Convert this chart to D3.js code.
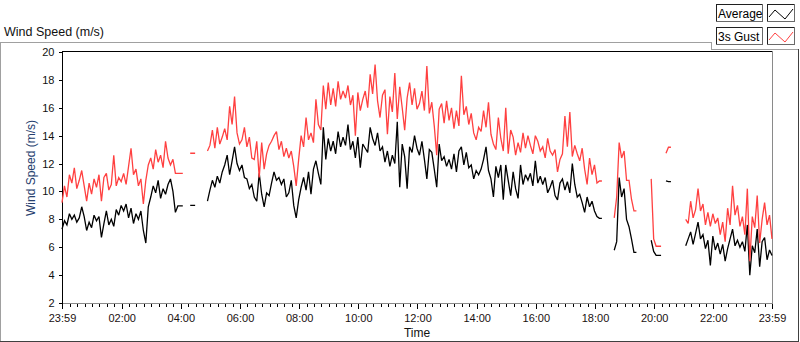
<!DOCTYPE html>
<html>
<head>
<meta charset="utf-8">
<script src="https://cdn.jsdelivr.net/npm/d3@7"></script>
<style>
  body { margin: 0; background: #fff; }
  svg { display: block; font-family: "Liberation Sans", Arial, sans-serif; }
</style>
</head>
<body>
<div id="chart"></div>
<script>
// chart data: one sample every 5 minutes, starting 23:59 of the previous day
var step_minutes = 5;

var avg_speed = [
    7.3, 7.9, 7.6, 8.4, 8.0, 8.3, 7.8, 8.1, 8.9, 8.2,
    7.2, 7.8, 7.4, 8.3, 7.9, 8.2, 6.7, 7.7, 8.6, 7.6,
    8.0, 7.5, 8.7, 8.3, 9.0, 8.6, 9.1, 8.1, 8.8, 7.7,
    8.4, 8.0, 8.6, 7.2, 6.3, 8.9, 9.6, 10.4, 9.9, 10.8,
    9.5, 10.2, 9.8, 10.5, 10.9, 10.0, 8.5, 8.96, 8.96, 8.96,
    null, null, 9.0, 9.0, 9.0, null, null, null, null, 9.3,
    10.1, 10.8, 10.3, 11.1, 10.6, 11.4, 11.9, 12.6, 11.2, 12.2,
    13.2, 12.0, 11.5, 11.9, 11.0, 10.9, 10.2, 10.5, 9.6, 9.3,
    11.3, 9.8, 8.9, 9.9, 9.7, 10.6, 11.4, 10.8, 11.0, 10.5,
    10.9, 9.6, 9.9, 10.8, 9.0, 8.1, 9.4, 10.3, 11.0, 10.1,
    11.4, 9.8, 11.6, 12.2, 11.3, 10.5, 14.6, 12.3, 13.8, 12.9,
    13.6, 12.7, 14.3, 13.2, 13.9, 13.3, 14.8, 13.0, 13.6, 12.4,
    13.9, 11.7, 13.4, 13.1, 12.8, 14.6, 13.8, 13.3, 14.2, 12.9,
    13.2, 12.1, 12.9, 11.8, 12.6, 12.0, 15.0, 10.3, 13.4, 12.5,
    10.2, 13.2, 12.8, 14.0, 13.1, 12.6, 13.6, 12.3, 10.9, 13.0,
    12.8, 11.6, 10.3, 13.4, 12.2, 12.5, 11.8, 12.3, 11.6, 12.7,
    11.4, 12.9, 13.2, 11.9, 12.8, 11.7, 11.9, 10.9, 11.5, 11.2,
    11.6, 12.3, 13.2, 11.5, 10.9, 9.6, 11.8, 11.0, 11.9, 9.4,
    11.9, 10.8, 9.7, 11.4, 10.2, 9.5, 11.9, 10.5, 11.2, 10.8,
    11.3, 10.4, 12.2, 10.6, 11.1, 10.5, 11.0, 9.9, 10.3, 10.8,
    9.7, 9.4, 10.6, 10.9, 10.1, 10.7, 9.9, 12.0, 10.5, 9.6,
    9.8, 9.2, 8.5, 9.6, 8.9, 9.3, 8.6, 8.2, 8.07, 8.07,
    null, null, null, null, 5.78, 6.4, 11.0, 9.6, 10.2, 8.0,
    7.47, 6.6, 5.63, 5.63, null, null, null, null, null, 6.5,
    5.7, 5.42, 5.42, 5.42, null, 10.75, 10.7, 10.7, null, null,
    null, null, null, 6.1, 6.6, 7.1, 6.2, 7.0, 7.8, 6.6,
    6.9, 5.9, 6.5, 4.7, 6.8, 5.8, 6.3, 5.5, 6.2, 5.0,
    5.9, 6.6, 7.3, 6.1, 6.5, 6.0, 6.4, 5.7, 7.6, 4.0,
    6.1, 5.6, 7.3, 4.6, 6.4, 6.7, 5.1, 5.8, 5.4
];

var gust_speed = [
    9.2, 10.4, 9.6, 11.2, 10.6, 11.7, 10.2, 10.8, 11.5, 10.4,
    9.3, 10.6, 9.8, 10.9, 10.3, 11.2, 9.3, 11.0, 11.3, 10.1,
    10.5, 12.6, 10.4, 11.0, 10.7, 11.3, 10.5, 11.8, 13.1, 11.2,
    11.6, 10.4, 10.9, 9.1, 10.8, 11.9, 12.4, 11.6, 13.0, 12.1,
    12.6, 11.7, 13.6, 12.4, 11.9, 12.3, 11.3, 11.3, 11.3, 11.3,
    null, null, 12.74, 12.74, 12.74, null, null, null, null, 12.9,
    13.3, 14.4, 13.1, 14.6, 13.4, 13.9, 14.5, 13.7, 16.1, 14.8,
    16.8, 14.2, 13.4, 13.7, 14.6, 13.2, 13.9, 12.4, 12.3, 13.6,
    11.0, 13.5, 11.6, 12.7, 13.3, 13.6, 14.0, 14.3, 13.0, 13.6,
    12.5, 13.1, 12.4, 12.9, 11.8, 10.4, 12.3, 14.0, 13.2, 15.3,
    13.7, 14.2, 13.5, 16.6, 14.8, 14.4, 17.6, 15.9, 17.8, 16.2,
    17.4, 16.1, 17.9, 16.6, 17.2, 16.7, 17.6, 16.2, 16.9, 14.0,
    17.1, 15.8, 16.6, 17.2, 16.0, 18.4, 17.0, 19.1, 16.5, 15.3,
    16.9, 17.3, 14.1, 16.8, 15.7, 18.5, 15.2, 17.5, 16.0, 14.4,
    16.7, 17.8, 16.2, 17.4, 15.9, 16.3, 17.2, 15.8, 19.0, 15.6,
    16.4, 14.7, 12.6, 15.9, 16.3, 14.9, 16.5, 15.1, 16.0, 14.5,
    15.8, 14.7, 18.3, 15.5, 16.1, 14.8, 15.6, 14.2, 13.7, 14.6,
    14.3, 15.8, 14.6, 16.4, 14.1, 13.4, 13.0, 15.3, 13.8, 12.9,
    16.0, 12.7, 14.4, 13.9, 12.6, 13.5, 12.8, 14.2, 13.1, 14.0,
    13.3, 12.7, 14.0, 13.6, 12.9, 13.2, 12.4, 13.8, 12.9, 12.6,
    13.0, 11.4, 12.3, 12.7, 15.4, 13.2, 15.7, 12.5, 13.3, 12.7,
    12.2, 13.1, 11.6, 10.5, 12.4, 11.2, 11.9, 10.6, 10.75, 10.75,
    null, null, null, null, 8.1, 9.6, 13.5, 12.4, 12.9, 10.8,
    10.8, 9.44, 8.6, 8.6, null, null, null, null, null, 10.9,
    6.6, 6.07, 6.07, 6.07, null, 12.74, 13.17, 13.17, null, null,
    null, null, null, 8.0, 7.7, 9.3, 8.1, 8.7, 10.2, 8.6,
    9.1, 7.6, 8.5, 7.5, 8.4, 7.7, 8.1, 6.9, 7.8, 6.4,
    8.8, 7.6, 10.4, 8.3, 9.0, 7.5, 8.2, 6.9, 10.2, 5.0,
    8.2, 7.4, 9.7, 6.3, 8.0, 9.2, 7.6, 8.3, 6.6
];

var series_names = ["Average", "3s Gust"];
var series_colors = ["#000000", "#ff4040"];

var x_tick_labels = ["23:59", "02:00", "04:00", "06:00", "08:00", "10:00", "12:00",
    "14:00", "16:00", "18:00", "20:00", "22:00", "23:59"];
var y_ticks = [2, 4, 6, 8, 10, 12, 14, 16, 18, 20];

//----------------------------------------------------------------------------------

var svg_width = 800;
var svg_height = 342;

var plot = { left: 62, right: 772, top: 51, bottom: 303 };

var svg = d3.select("#chart")
    .append("svg")
    .attr("width", svg_width)
    .attr("height", svg_height);

// minutes since 23:59 of the previous day
function labelMinutes(label, i) {
    if (i == 0) return 0;
    if (i == x_tick_labels.length - 1) return 1440;
    var parts = label.split(":");
    return (+parts[0]) * 60 + (+parts[1]) + 1;
}
var x_tick_values = x_tick_labels.map(labelMinutes);

var x_scale = d3.scaleLinear()
    .domain([0, 1440])
    .range([plot.left, plot.right]);

var y_scale = d3.scaleLinear()
    .domain([2, 20])
    .range([plot.bottom, plot.top + 1]);

// outer panel frame
var frame = svg.append("g").attr("shape-rendering", "crispEdges");
frame.append("path")
    .attr("d", "M0.5,341 V42.5 H711.5 V49.5 H799")
    .attr("fill", "none")
    .attr("stroke", "#a0a0a0");
frame.append("path")
    .attr("d", "M0,341.5 H798.5 V49")
    .attr("fill", "none")
    .attr("stroke", "#404040");

// chart title
svg.append("text")
    .attr("x", 4)
    .attr("y", 36)
    .attr("font-size", 12.5)
    .attr("fill", "#111")
    .text("Wind Speed (m/s)");

// plot area frame: dark top/left, grey right/bottom
frame.append("path")
    .attr("d", `M${plot.left + 0.5},${plot.bottom} V${plot.top + 0.5} H${plot.right}`)
    .attr("fill", "none")
    .attr("stroke", "#000");
frame.append("path")
    .attr("d", `M${plot.right + 0.5},${plot.top} V${plot.bottom + 0.5} H${plot.left}`)
    .attr("fill", "none")
    .attr("stroke", "#8a8a8a");

// y axis
var left_axis = d3.axisLeft(y_scale)
    .tickValues(y_ticks)
    .tickSize(4)
    .tickSizeOuter(0)
    .tickPadding(4);

var y_axis = svg.append("g")
    .attr("transform", `translate(${plot.left + 0.5}, 0)`)
    .call(left_axis);
y_axis.select(".domain").remove();
y_axis.selectAll("line").attr("stroke", "#000").attr("shape-rendering", "crispEdges");
y_axis.selectAll("text")
    .attr("font-family", "Liberation Sans, Arial, sans-serif")
    .attr("font-size", 11)
    .attr("fill", "#111");

// x axis: minor ticks every 15 minutes, labelled ticks every 2 hours
var minor_values = d3.range(1, 1440, 15).filter(t => x_tick_values.indexOf(t) < 0 && t > 3);

var minor_axis = d3.axisBottom(x_scale)
    .tickValues(minor_values)
    .tickSize(3)
    .tickSizeOuter(0)
    .tickFormat("");

var bottom_axis = d3.axisBottom(x_scale)
    .tickValues(x_tick_values)
    .tickSize(5)
    .tickSizeOuter(0)
    .tickPadding(6)
    .tickFormat((d, i) => x_tick_labels[i]);

var x_minor = svg.append("g")
    .attr("transform", `translate(0, ${plot.bottom + 0.5})`)
    .call(minor_axis);
x_minor.select(".domain").remove();

var x_axis = svg.append("g")
    .attr("transform", `translate(0, ${plot.bottom + 0.5})`)
    .call(bottom_axis);
x_axis.select(".domain").remove();

svg.selectAll(".tick line")
    .attr("stroke", "#000")
    .attr("shape-rendering", "crispEdges");
x_axis.selectAll("text")
    .attr("font-family", "Liberation Sans, Arial, sans-serif")
    .attr("font-size", 11)
    .attr("fill", "#1a1010");

// axis titles
svg.append("text")
    .attr("transform", `translate(34.5, 168) rotate(-90)`)
    .attr("text-anchor", "middle")
    .attr("font-size", 12)
    .attr("fill", "#26406e")
    .text("Wind Speed (m/s)");

svg.append("text")
    .attr("x", (plot.left + plot.right) / 2)
    .attr("y", 337)
    .attr("text-anchor", "middle")
    .attr("font-size", 12)
    .attr("fill", "#111")
    .text("Time");

// data lines
var line = d3.line()
    .defined(d => d != null)
    .x((d, i) => x_scale(i * step_minutes))
    .y(d => y_scale(d));

var chart = svg.append("g");

[avg_speed, gust_speed].forEach(function(values, k) {
    chart.append("path")
        .datum(values)
        .attr("fill", "none")
        .attr("stroke", series_colors[k])
        .attr("stroke-width", 1.3)
        .attr("stroke-linejoin", "miter")
        .attr("stroke-miterlimit", 3)
        .attr("d", line);
});

// legend
var legend = svg.append("g").attr("shape-rendering", "crispEdges");

series_names.forEach(function(name, k) {
    var top = 4 + k * 23;
    var row = legend.append("g").attr("transform", `translate(0, ${top})`);

    row.append("rect")
        .attr("x", 716.5).attr("y", 0.5)
        .attr("width", 46).attr("height", 17)
        .attr("fill", "#fff")
        .attr("stroke", "#6a6a6a");
    row.append("path")
        .attr("d", "M716.5,17 V0.5 H762")
        .attr("fill", "none")
        .attr("stroke", "#202020");
    row.append("text")
        .attr("x", 718)
        .attr("y", 13.5)
        .attr("font-size", 12)
        .attr("fill", "#000")
        .text(name);

    row.append("rect")
        .attr("x", 767.5).attr("y", 0.5)
        .attr("width", 27).attr("height", 17)
        .attr("fill", "#fff")
        .attr("stroke", "#6a6a6a");
    row.append("path")
        .attr("d", "M767.5,17 V0.5 H794")
        .attr("fill", "none")
        .attr("stroke", "#202020");
    row.append("polyline")
        .attr("points", "769,13 775,6 785,15 793,5")
        .attr("fill", "none")
        .attr("stroke", series_colors[k])
        .attr("shape-rendering", "auto");
});
</script>
</body>
</html>
